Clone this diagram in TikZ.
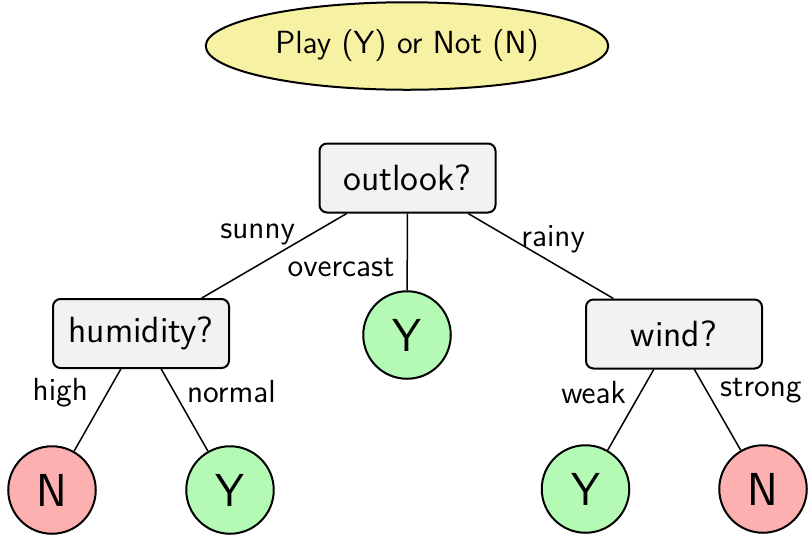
\documentclass[tikz,border=0pt]{standalone}
\usetikzlibrary{shapes.geometric}
\definecolor{titlefill}{RGB}{246,241,163}
\definecolor{boxfill}{RGB}{242,242,242}
\definecolor{yesfill}{RGB}{180,250,180}
\definecolor{nofill}{RGB}{252,176,176}
\tikzset{
  every node/.style={font=\sffamily},
  titlebox/.style={ellipse, draw=black, line width=0.8pt, fill=titlefill, minimum width=161pt, minimum height=35pt, inner sep=0pt, font=\sffamily\fontsize{12.8}{15}\selectfont},
  testbox/.style={rectangle, rounded corners=3pt, draw=black, line width=0.8pt, fill=boxfill, minimum width=70.4pt, minimum height=27.6pt, inner sep=0pt, font=\sffamily\fontsize{14.6}{17}\selectfont},
  yesleaf/.style={circle, draw=black, line width=0.8pt, fill=yesfill, minimum size=35pt, inner sep=0pt, font=\sffamily\fontsize{18.5}{21}\selectfont},
  noleaf/.style={circle, draw=black, line width=0.8pt, fill=nofill, minimum size=35pt, inner sep=0pt, font=\sffamily\fontsize{18.5}{21}\selectfont},
  branch/.style={draw=black, line width=0.6pt},
  lab/.style={inner sep=0pt, font=\sffamily\fontsize{12.8}{15}\selectfont},
}
\begin{document}
\begin{tikzpicture}[x=0.4pt, y=-0.4pt]
\useasboundingbox (0,0) rectangle (810,535);
\node[titlebox] (title) at (407,46) {Play (Y) or Not (N)};
\node[testbox] (outlook) at (407.5,178) {outlook?};
\node[testbox] (humidity) at (141,333.5) {humidity?};
\node[testbox] (wind) at (674,334) {wind?};
\node[yesleaf] (ymid) at (407,335) {Y};
\node[noleaf] (n1) at (52,490) {N};
\node[yesleaf] (y1) at (230,490) {Y};
\node[yesleaf] (y2) at (585.5,489) {Y};
\node[noleaf] (n2) at (763,489) {N};
\draw[branch] (outlook) -- node[lab, pos=0.25, anchor=east, xshift=-5.9pt] {sunny} (humidity);
\draw[branch] (outlook) -- node[lab, pos=0.71, anchor=east, xshift=-4.8pt] {overcast} (ymid);
\draw[branch] (outlook) -- node[lab, pos=0.305, anchor=west, xshift=3.3pt] {rainy} (wind);
\draw[branch] (humidity) -- node[lab, pos=0.287, anchor=east, xshift=-7.5pt] {high} (n1);
\draw[branch] (humidity) -- node[lab, pos=0.275, anchor=west, xshift=4.9pt] {normal} (y1);
\draw[branch] (wind) -- node[lab, pos=0.286, anchor=east, xshift=-5.6pt] {weak} (y2);
\draw[branch] (wind) -- node[lab, pos=0.261, anchor=west, xshift=5.2pt] {strong} (n2);
\end{tikzpicture}
\end{document}
